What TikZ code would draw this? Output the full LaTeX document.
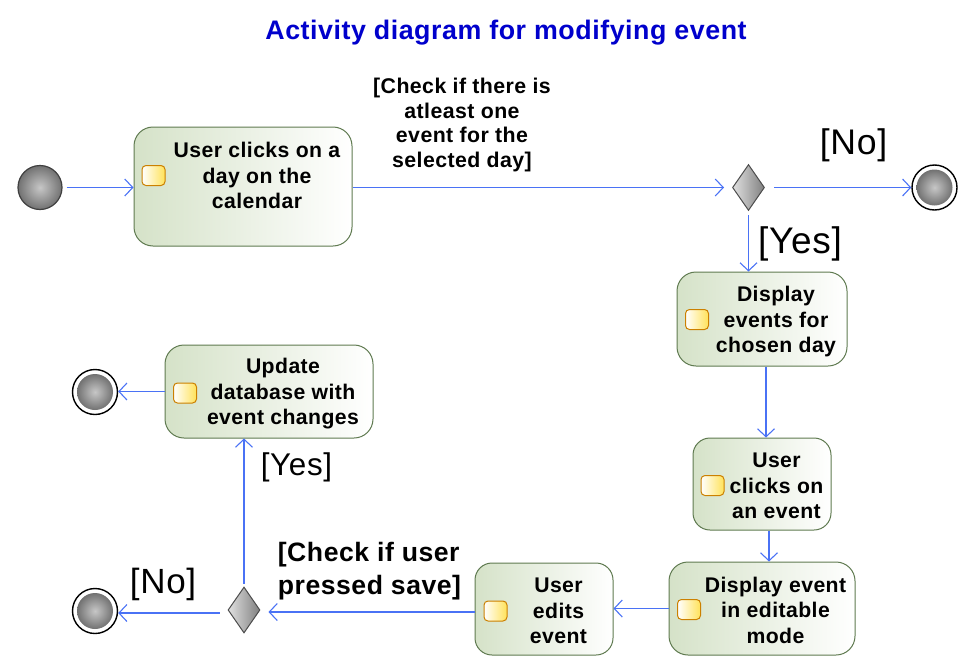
\documentclass[tikz,border=0pt]{standalone}
\usepackage{fontspec}
\setmainfont{Liberation Sans}[LetterSpace=2]
\usetikzlibrary{arrows.meta,shapes.geometric}
\definecolor{flow}{HTML}{4A72F5}
\definecolor{boxedge}{HTML}{5F7A50}
\definecolor{boxfill}{HTML}{D5E2C8}
\pgfdeclareradialshading{sphere}{\pgfpoint{0bp}{0bp}}{color(0bp)=(black!22); color(12bp)=(black!38); color(32bp)=(black!65); color(50bp)=(black!85)}
\tikzset{
  x=1pt,y=-1pt,
  box/.style={draw=boxedge,line width=1pt,rounded corners=19pt,inner sep=0pt,
    left color=boxfill,middle color=boxfill!80!white,right color=white},
  smallbox/.style={box,rounded corners=17pt},
  boxtext/.style={font=\fontsize{21.2}{25.5}\selectfont\bfseries,align=center,inner sep=0pt,text=black},
  icon/.style={draw=black!25!orange!80!yellow,line width=1pt,rounded corners=4pt,minimum width=23pt,minimum height=20pt,inner sep=0pt,
    left color=white,right color=yellow!65!orange!65},
  ball/.style={circle,draw=black!75,line width=1.2pt,minimum size=44pt,inner sep=0pt,shading=sphere},
  endring/.style={circle,draw=black,line width=1.4pt,fill=white,minimum size=45pt,inner sep=0pt},
  endball/.style={circle,minimum size=36pt,inner sep=0pt,shading=sphere},
  decision/.style={diamond,draw=black!70,line width=1pt,minimum width=32pt,minimum height=46pt,inner sep=0pt,
    left color=black!12,right color=black!50},
  flowline/.style={draw=flow,line width=1.6pt,-{Straight Barb[length=8pt,width=17pt,line width=1.1pt]}},
  biglabel/.style={font=\fontsize{36}{40}\selectfont,inner sep=0pt,text=black},
  guard/.style={font=\fontsize{21.3}{24.8}\selectfont\bfseries,align=center,inner sep=0pt,text=black},
}
\begin{document}
\begin{tikzpicture}
\useasboundingbox (0,0) rectangle (975,672);
\node[font=\fontsize{26.8}{30}\selectfont\bfseries,text={rgb,255:red,0;green,0;blue,204},inner sep=0pt] (title) at (506,33) {Activity diagram for modifying event};

\node[ball] (start) at (40,187.5) {};

\node[box,minimum width=218pt,minimum height=119pt] (click) at (243,186.5) {};
\node[icon] (i1) at (153.5,175.5) {};
\node[boxtext] (t1) at (257,175.5) {User clicks on a\\day on the\\calendar};

\node[decision] (d1) at (748.5,187.5) {};
\node[endring] (e1) at (934.5,187.5) {};
\node[endball] (e1b) at (934.5,187.5) {};

\node[box,minimum width=170pt,minimum height=94pt] (show) at (762,319) {};
\node[icon] (i2) at (697,319.5) {};
\node[boxtext] (t2) at (776,322) {Display\\events for\\chosen day};

\node[smallbox,minimum width=138pt,minimum height=92pt] (pick) at (762,484) {};
\node[icon] (i3) at (712.5,485.5) {};
\node[boxtext] (t3) at (776.5,486) {User\\clicks on\\an event};

\node[box,minimum width=186pt,minimum height=93pt] (edit) at (762,608.5) {};
\node[icon] (i4) at (689,609.5) {};
\node[boxtext] (t4) at (775.5,610) {Display event\\in editable\\mode};

\node[smallbox,minimum width=138pt,minimum height=92pt] (uedit) at (544,609) {};
\node[icon] (i5) at (495.5,611) {};
\node[boxtext] (t5) at (558.5,611) {User\\edits\\event};

\node[decision] (d2) at (244,610) {};
\node[endring] (e3) at (95,611) {};
\node[endball] (e3b) at (95,611) {};

\node[box,minimum width=208pt,minimum height=93pt] (upd) at (269,391.5) {};
\node[icon] (i6) at (185,393) {};
\node[boxtext] (t6) at (283,394) {Update\\database with\\event changes};
\node[endring] (e2) at (95,392) {};
\node[endball] (e2b) at (95,392) {};

\node[guard] (g1) at (462,125) {[Check if there is\\atleast one\\event for the\\selected day]};
\node[biglabel,font=\fontsize{35.6}{40}\selectfont] (no1) at (853.5,145) {[No]};
\node[biglabel,font=\fontsize{37}{40}\selectfont] (yes1) at (800,244) {[Yes]};
\node[biglabel,font=\fontsize{31.4}{36}\selectfont] (yes2) at (296.5,467) {[Yes]};
\node[biglabel,font=\fontsize{35}{40}\selectfont] (no2) at (163,584) {[No]};
\node[guard,font=\fontsize{26.6}{33}\selectfont\bfseries,align=left] (g2) at (369.5,571) {[Check if user\\pressed save]};

\draw[flowline] ([xshift=4pt]start.east) -- (click.west |- start.east);
\draw[flowline] (click.east |- d1.west) -- ([xshift=-8pt]d1.west);
\draw[flowline] ([xshift=9pt]d1.east) -- (e1.west);
\draw[flowline] ([yshift=-4pt]d1.south) -- (d1.south |- show.north);
\draw[flowline] ([xshift=4pt]show.south) -- ([xshift=4pt]pick.north);
\draw[flowline] ([xshift=7pt]pick.south) -- ([xshift=7pt]edit.north);
\draw[flowline] (edit.west) -- (uedit.east |- edit.west);
\draw[flowline] ([yshift=-3pt]uedit.west) -- ([xshift=8pt,yshift=-2pt]d2.east);
\draw[flowline] ([xshift=-8pt,yshift=-3pt]d2.west) -- ([yshift=-2pt]e3.east);
\draw[flowline] ([yshift=3pt]d2.north) -- (d2.north |- upd.south);
\draw[flowline] (upd.west) -- (e2.east |- upd.west);
\end{tikzpicture}
\end{document}
